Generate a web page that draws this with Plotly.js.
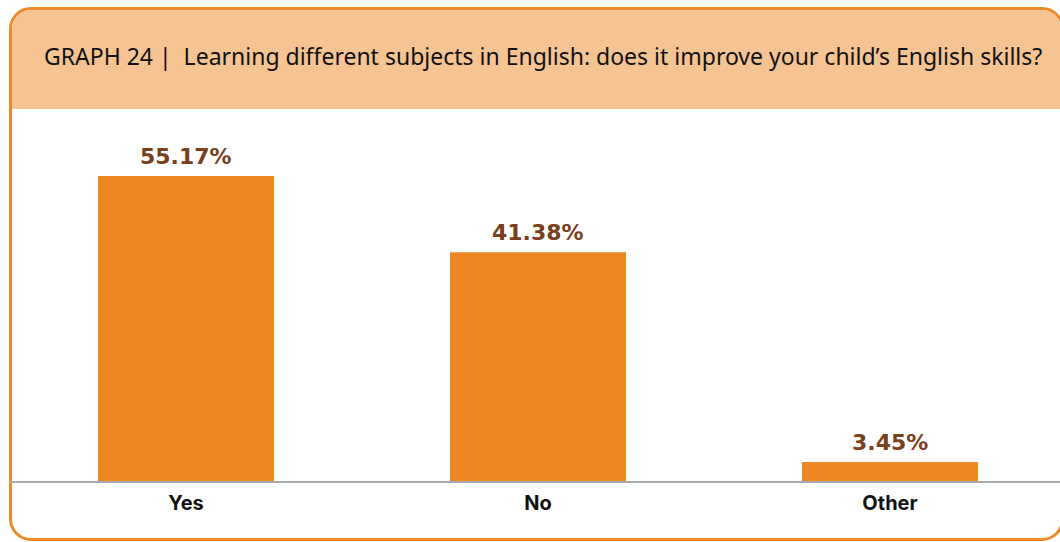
<!DOCTYPE html>
<html>
<head>
<meta charset="utf-8">
<script src="https://cdn.plot.ly/plotly-3.0.1.min.js"></script>
<style>
  html, body { margin: 0; padding: 0; background: #ffffff; }
  #wrap { position: relative; width: 1060px; height: 542px; overflow: hidden; }
  #frame {
    position: absolute; left: 9px; top: 7px; width: 1055px; height: 534px;
    border: 3px solid #EE8A2A; border-radius: 22px; box-sizing: border-box;
    overflow: hidden; background: #ffffff;
  }
  #header { position: absolute; left: 0; top: 0; width: 100%; height: 99px; background: #F6C393; }
  #chart { position: absolute; left: 0; top: 0; width: 1060px; height: 542px; }
</style>
</head>
<body>
<div id="wrap">
  <div id="frame"><div id="header"></div></div>
  <div id="chart"></div>
</div>
<script>
const categories = ["Yes", "No", "Other"];
const values = [55.17, 41.38, 3.45];
const valueLabels = ["55.17%", "41.38%", "3.45%"];
const titleText = "GRAPH 24 |  Learning different subjects in English: does it improve your child’s English skills?";

const trace = {
  type: "bar",
  x: categories,
  y: values,
  marker: { color: "#EC8724", line: { width: 0 } },
  width: 0.5,
  hoverinfo: "skip"
};

const labelAnnotations = categories.map((c, i) => ({
  x: c,
  y: values[i],
  xref: "x", yref: "y",
  text: valueLabels[i],
  showarrow: false,
  xanchor: "center", yanchor: "bottom",
  yshift: 5,
  font: { family: "DejaVu Sans", size: 22, color: "#7A4019", weight: "bold" }
}));

const layout = {
  width: 1060,
  height: 542,
  paper_bgcolor: "rgba(0,0,0,0)",
  plot_bgcolor: "rgba(0,0,0,0)",
  margin: { l: 10, r: 0, t: 110, b: 61, pad: 0 },
  showlegend: false,
  title: {
    text: titleText,
    font: { family: "Noto Sans", size: 23, color: "#111111" },
    xref: "container", yref: "container",
    x: 44 / 1060, xanchor: "left",
    y: 1 - 57 / 542, yanchor: "middle"
  },
  annotations: labelAnnotations,
  xaxis: {
    type: "category",
    range: [-0.5, 2.483],
    showline: true, linecolor: "#ABABAB", linewidth: 2,
    showgrid: false, zeroline: false, ticks: "",
    ticklabelstandoff: 3,
    tickfont: { family: "Inter", size: 20, color: "#111111", weight: "bold" },
    fixedrange: true
  },
  yaxis: {
    range: [0, 67.1],
    visible: false, showgrid: false, zeroline: false,
    fixedrange: true
  }
};

Plotly.newPlot("chart", [trace], layout, { displayModeBar: false, staticPlot: true });
</script>
</body>
</html>
